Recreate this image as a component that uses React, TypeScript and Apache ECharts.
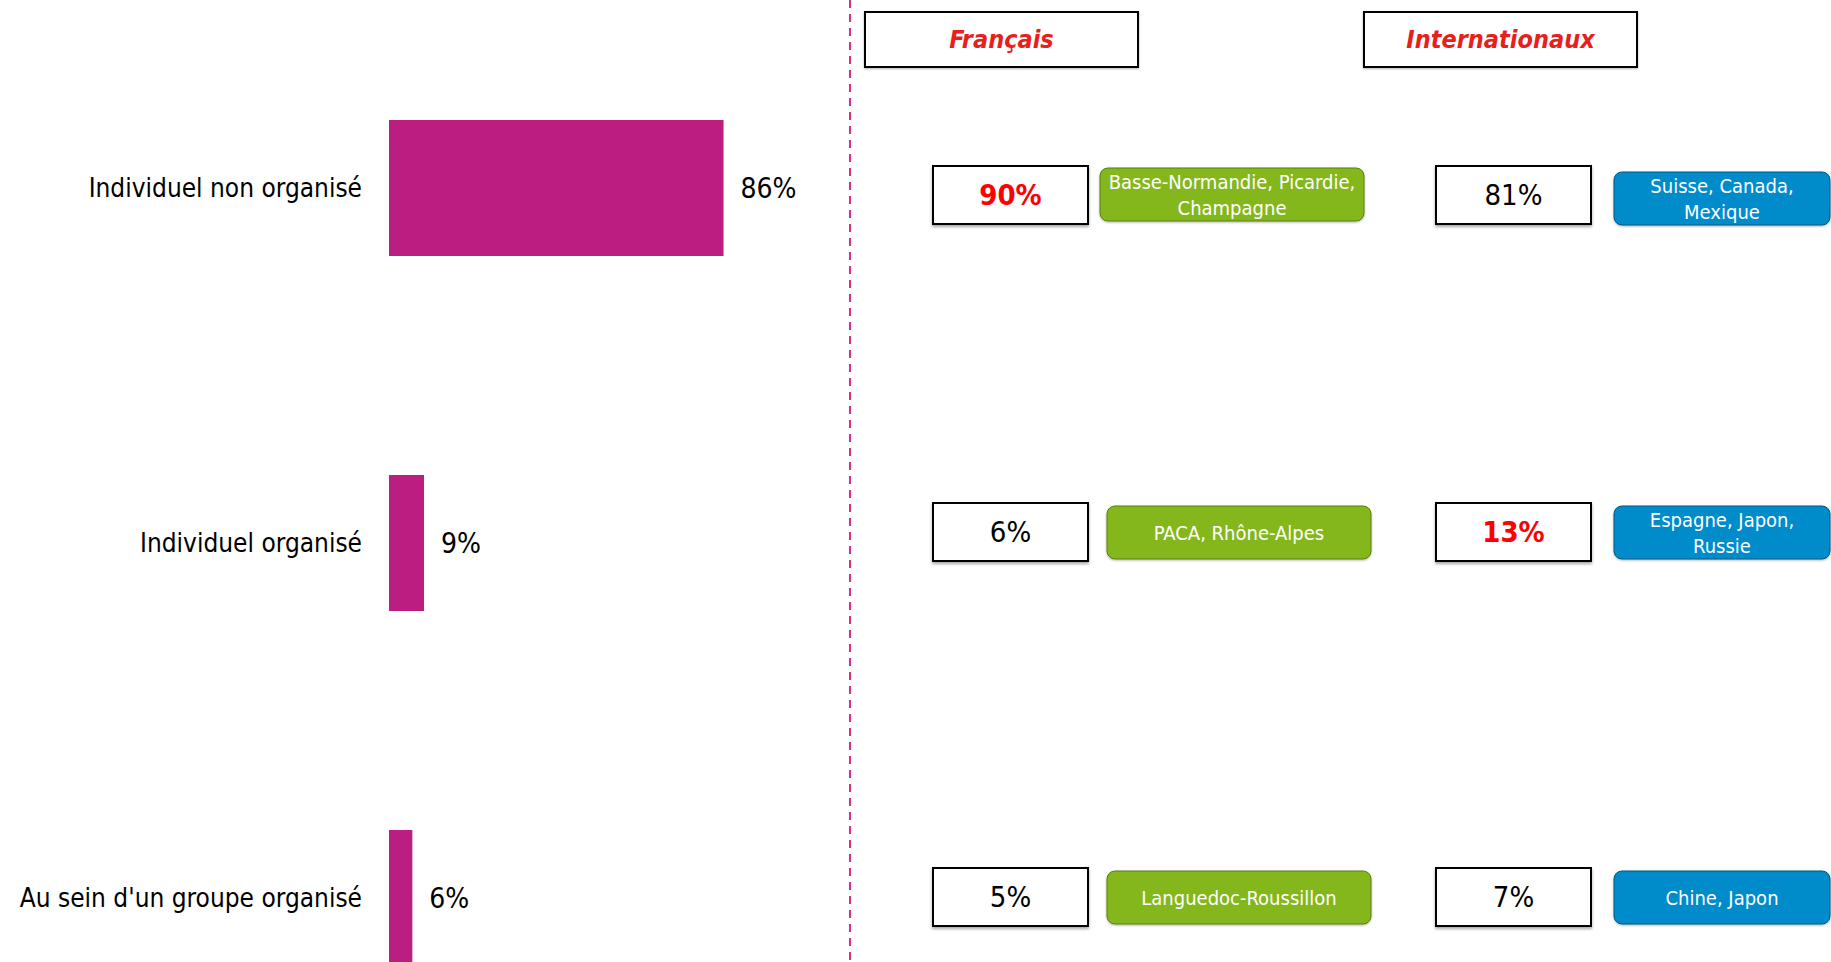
import React, { useEffect, useRef } from "react";
import * as echarts from "echarts";

const categories = ["Individuel non organisé", "Individuel organisé", "Au sein d'un groupe organisé"];
const shareValues = [86, 9, 6];

const francaisValues = ["90%", "6%", "5%"];
const francaisHighlight = [true, false, false];
const francaisRegions = ["Basse-Normandie, Picardie,\nChampagne", "PACA, Rhône-Alpes", "Languedoc-Roussillon"];

const internationalValues = ["81%", "13%", "7%"];
const internationalHighlight = [false, true, false];
const internationalCountries = ["Suisse, Canada,\nMexique", "Espagne, Japon,\nRussie", "Chine, Japon"];

const headers = ["Français", "Internationaux"];

const FONT = "'DejaVu Sans Condensed', 'Liberation Sans Narrow', 'Noto Sans', sans-serif";
const BAR_COLOR = "#bb1e80";
const RED = "#e8201c";
const GREEN = "#84b71c";
const BLUE = "#008bcb";

// layout (pixel positions of the annotation rows)
const rowTops = [166, 503, 868];
const rowHeight = 58;
const tagTops = [168, 506, 871];
const tagHeight = 53;

function valueBox(x: number, y: number, text: string, hi: boolean) {
  return {
    type: "group",
    x,
    y,
    children: [
      {
        type: "rect",
        shape: { x: 0, y: 0, width: 155, height: rowHeight },
        style: {
          fill: "#fff",
          stroke: "#000",
          lineWidth: 2,
          shadowBlur: 3,
          shadowOffsetY: 2,
          shadowColor: "rgba(0,0,0,0.35)",
        },
      },
      {
        type: "text",
        x: 77.5,
        y: rowHeight / 2,
        style: {
          text,
          fill: hi ? "#ff0000" : "#000",
          font: `${hi ? "bold " : ""}29px ${FONT}`,
          align: "center",
          verticalAlign: "middle",
        },
      },
    ],
  };
}

function tagBox(x: number, y: number, w: number, text: string, fill: string, stroke: string) {
  return {
    type: "group",
    x,
    y,
    children: [
      {
        type: "rect",
        shape: { x: 0, y: 0, width: w, height: tagHeight, r: 8 },
        style: {
          fill,
          stroke,
          lineWidth: 1,
          shadowBlur: 2,
          shadowOffsetY: 1,
          shadowColor: "rgba(0,0,0,0.3)",
        },
      },
      {
        type: "text",
        x: w / 2,
        y: tagHeight / 2,
        style: {
          text,
          fill: "#fff",
          font: `20px ${FONT}`,
          lineHeight: 26,
          align: "center",
          verticalAlign: "middle",
        },
      },
    ],
  };
}

export default function App() {
  const ref = useRef<HTMLDivElement>(null);
  useEffect(() => {
    document.body.style.margin = "0";
    if (!ref.current) return;
    const chart = echarts.init(ref.current, undefined, { renderer: "svg" });

    const graphics: any[] = [];
    graphics.push({
      type: "line",
      shape: { x1: 850, y1: 0, x2: 850, y2: 962 },
      style: { stroke: "#cf2f97", lineWidth: 2, lineDash: [8, 6] },
    });
    const headerX = [865, 1364];
    headers.forEach((h, i) => {
      graphics.push({
        type: "group",
        x: headerX[i],
        y: 12,
        children: [
          {
            type: "rect",
            shape: { x: 0, y: 0, width: 273, height: 55 },
            style: { fill: "#fff", stroke: "#000", lineWidth: 2, shadowBlur: 2, shadowOffsetY: 1, shadowColor: "rgba(0,0,0,0.3)" },
          },
          {
            type: "text",
            x: 136.5,
            y: 27.5,
            style: {
              text: h,
              fill: RED,
              font: `italic bold 25px ${FONT}`,
              align: "center",
              verticalAlign: "middle",
            },
          },
        ],
      });
    });
    const greenX = [1100, 1107, 1107];
    categories.forEach((_, i) => {
      graphics.push(valueBox(933, rowTops[i], francaisValues[i], francaisHighlight[i]));
      graphics.push(tagBox(greenX[i], tagTops[i], 264, francaisRegions[i], GREEN, "#5b7f10"));
      graphics.push(valueBox(1436, rowTops[i], internationalValues[i], internationalHighlight[i]));
      graphics.push(tagBox(1614, tagTops[i] + (i === 0 ? 4 : 0), 216, internationalCountries[i], BLUE, "#00587f"));
    });

    chart.setOption({
      animation: false,
      grid: {
        left: 389,
        top: 10.5,
        width: 389,
        height: 1065,
        containLabel: false,
        outerBoundsMode: "none",
      },
      xAxis: { type: "value", min: 0, max: 100, show: false },
      yAxis: {
        type: "category",
        data: categories,
        inverse: true,
        axisLine: { show: false },
        axisTick: { show: false },
        splitLine: { show: false },
        axisLabel: { margin: 27, fontSize: 26, color: "#000", fontFamily: FONT },
      },
      series: [
        {
          type: "bar",
          data: shareValues,
          barWidth: 136,
          itemStyle: { color: BAR_COLOR },
          label: {
            show: true,
            position: "right",
            distance: 17,
            formatter: "{c}%",
            fontSize: 28,
            color: "#000",
            fontFamily: FONT,
          },
        },
      ],
      graphic: graphics,
    });
    return () => chart.dispose();
  }, []);
  return <div ref={ref} style={{ width: 1831, height: 962 }} />;
}
